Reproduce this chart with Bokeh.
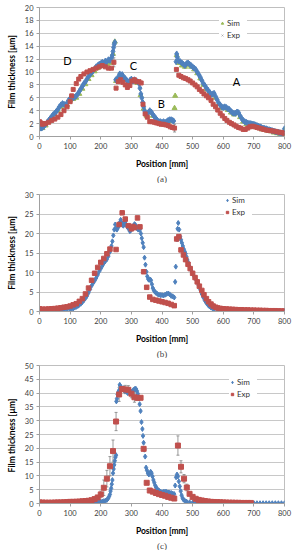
from bokeh.plotting import figure
from bokeh.layouts import column
from bokeh.models import (Range1d, Legend, LegendItem, Title, Whisker, ColumnDataSource,
                          TeeHead, SingleIntervalTicker, Label)
from bokeh.embed import file_html
from bokeh.resources import INLINE

# ---------------- data: panel (a) ----------------
a_sim_x = [0, 5, 10, 15, 20, 25, 30, 35, 40, 45, 50, 55, 60, 65, 70, 75, 80, 85, 90, 95, 100, 105, 110, 115, 120,
           125, 130, 135, 140, 145, 150, 155, 160, 165, 170, 175, 180, 185, 190, 195, 200, 205, 210, 215, 220, 225,
           230, 235, 238, 240, 242, 244, 246, 249, 252, 255, 258, 262, 266, 270, 275, 280, 285, 290, 295, 300, 305,
           310, 315, 320, 325, 328, 331, 334, 337, 340, 343, 346, 350, 355, 360, 365, 370, 375, 380, 385, 390, 395,
           400, 405, 410, 415, 420, 425, 430, 435, 438, 446, 448, 450, 455, 460, 465, 470, 475, 480, 485, 490, 495,
           500, 505, 510, 515, 520, 525, 530, 535, 540, 545, 550, 555, 560, 565, 570, 575, 580, 585, 590, 595, 600,
           605, 610, 615, 620, 625, 630, 635, 640, 645, 650, 655, 660, 665, 670, 675, 680, 685, 690, 695, 700, 705,
           710, 715, 720, 725, 730, 735, 740, 745, 750, 755, 760, 765, 770, 775, 780, 785, 790, 795, 800]
a_sim_y = [1.3, 1.3, 1.4, 1.6, 1.9, 2.2, 2.5, 2.8, 3.1, 3.4, 3.6, 3.9, 4.2, 4.6, 4.9, 5.1, 5.0, 4.8, 5.2, 5.6, 5.9,
           6.0, 6.0, 6.1, 6.3, 6.6, 7.0, 7.4, 7.8, 8.2, 8.5, 8.9, 9.3, 9.6, 9.9, 10.2, 10.5, 10.8, 11.0, 11.2, 11.3,
           11.5, 11.3, 11.7, 11.6, 11.9, 11.8, 12.2, 12.6, 13.2, 13.8, 14.3, 14.6, 8.8, 8.7, 8.9, 9.3, 9.7, 9.4, 9.6,
           9.2, 9.0, 8.7, 8.4, 8.7, 8.9, 8.6, 8.8, 8.6, 8.5, 8.2, 7.5, 6.6, 6.0, 5.3, 4.6, 4.0, 3.6, 3.5, 3.7, 4.0,
           3.8, 3.4, 3.1, 2.8, 2.5, 2.3, 2.3, 2.2, 2.3, 2.2, 2.3, 2.5, 2.6, 2.6, 2.5, 2.4, 11.6, 12.8, 12.3, 11.7,
           11.6, 11.4, 11.2, 11.0, 11.3, 11.4, 11.2, 11.0, 10.8, 10.6, 10.4, 10.0, 9.6, 9.2, 8.7, 8.2, 7.9, 7.5, 7.2,
           6.9, 6.5, 6.6, 6.7, 6.2, 5.7, 5.2, 4.9, 4.6, 4.5, 4.6, 4.5, 4.3, 4.2, 3.9, 3.7, 3.6, 3.6, 3.8, 3.7, 3.2,
           2.8, 2.5, 2.3, 2.2, 2.1, 2.0, 2.0, 1.9, 1.9, 1.8, 1.7, 1.6, 1.5, 1.4, 1.3, 1.25, 1.2, 1.1, 1.05, 1.0,
           0.9, 0.85, 0.75, 0.7, 0.65, 0.6, 0.5, 0.45, 1.2]
a_sim2_x = [0, 10, 20, 30, 40, 50, 60, 70, 80, 90, 100, 110, 120, 130, 140, 150, 160, 170, 180, 190, 200, 210, 220,
            230, 240, 246, 250, 260, 270, 280, 290, 300, 310, 320, 330, 340, 350, 360, 370, 380, 390, 400, 410, 420,
            430, 441, 443, 448, 455, 465, 475, 485, 495, 505, 515, 525, 535, 545, 555, 565, 575, 585, 595, 605, 615,
            625, 635, 645, 655, 665, 675, 685, 695, 705, 715, 725, 735, 745, 755, 765, 775, 785, 795, 800]
a_sim2_y = [1.2, 1.3, 1.7, 2.3, 2.9, 3.4, 4.0, 4.6, 4.8, 4.9, 5.6, 5.8, 6.0, 6.6, 7.4, 8.1, 8.9, 9.5, 10.1, 10.6,
            10.9, 11.0, 11.2, 11.4, 12.8, 14.7, 8.6, 9.2, 9.3, 8.8, 8.1, 8.6, 8.5, 8.3, 6.4, 4.3, 3.2, 3.7, 3.2, 2.6,
            2.2, 2.1, 2.1, 2.3, 2.4, 4.4, 6.3, 12.6, 11.4, 11.0, 10.8, 11.1, 10.8, 10.4, 9.8, 9.0, 8.0, 7.3, 6.7, 6.4,
            6.0, 5.0, 4.4, 4.4, 4.1, 3.7, 3.4, 3.6, 3.0, 2.3, 1.9, 1.7, 1.6, 1.5, 1.3, 1.1, 1.0, 0.9, 0.8, 0.6, 0.5,
            0.4, 0.3, 1.0]
a_exp_x = [0, 5, 10, 15, 20, 30, 40, 50, 60, 70, 80, 90, 100, 105, 110, 120, 128, 135, 145, 155, 165, 175, 185, 195,
           205, 215, 225, 235, 243, 250, 257, 265, 272, 280, 287, 295, 302, 310, 317, 325, 332, 338, 345, 352, 360,
           367, 375, 382, 390, 397, 405, 412, 420, 427, 434, 441, 447, 455, 462, 470, 477, 485, 492, 500, 508, 515,
           522, 530, 537, 545, 552, 560, 567, 575, 582, 590, 597, 605, 612, 620, 627, 635, 642, 650, 657, 665, 672,
           680, 687, 695, 702, 710, 717, 725, 732, 740, 747, 755, 762, 770, 777, 785, 792, 798]
a_exp_y = [2.3, 2.1, 1.9, 2.0, 2.0, 2.2, 2.5, 2.7, 3.0, 3.4, 4.0, 4.6, 5.4, 6.3, 7.3, 8.2, 8.9, 9.3, 9.7, 10.0,
           10.2, 10.4, 10.6, 10.8, 11.0, 10.8, 10.6, 10.6, 11.5, 7.5, 8.5, 8.8, 8.4, 8.0, 7.6, 7.9, 8.6, 8.8, 8.5,
           8.5, 8.3, 5.0, 3.5, 3.0, 2.3, 2.3, 2.2, 2.1, 2.0, 1.9, 1.9, 1.8, 1.7, 1.5, 1.4, 1.3, 10.4, 9.5, 9.3, 9.1,
           9.0, 8.8, 8.6, 8.3, 8.0, 7.7, 7.3, 7.0, 6.6, 6.3, 6.0, 5.6, 5.0, 4.6, 4.1, 3.6, 3.2, 2.8, 2.5, 2.2, 2.0,
           1.8, 1.6, 1.4, 1.3, 1.1, 1.1, 1.3, 1.5, 1.6, 1.5, 1.4, 1.3, 1.2, 1.1, 1.0, 0.95, 0.9, 0.85, 0.8, 0.7,
           0.65, 0.6, 0.5]
a_err_x = [243, 441]
a_err_v = [11.5, 1.3]
a_err_e = [0.7, 0.6]
a_zone_labels = ["D", "C", "B", "A"]
a_zone_x = [91, 307, 398, 643]
a_zone_y = [11.8, 11.0, 5.1, 8.5]

# ---------------- data: panel (b) ----------------
b_sim_x = [0, 10, 20, 30, 40, 50, 60, 70, 80, 90, 100, 105, 110, 115, 120, 125, 130, 135, 140, 145, 150, 155, 160,
           165, 170, 175, 180, 185, 190, 195, 200, 205, 210, 215, 220, 225, 230, 235, 238, 241, 244, 247, 250, 253,
           256, 259, 262, 265, 268, 271, 274, 277, 280, 283, 286, 289, 292, 295, 298, 301, 304, 307, 310, 313, 316,
           319, 322, 325, 328, 331, 334, 337, 340, 343, 346, 349, 352, 355, 358, 361, 364, 367, 370, 373, 376, 380,
           385, 390, 395, 400, 405, 410, 415, 420, 425, 430, 435, 440, 443, 445, 449, 451, 453, 456, 459, 462, 465,
           468, 471, 474, 477, 480, 483, 486, 490, 495, 500, 505, 510, 515, 520, 525, 530, 535, 540, 545, 550, 555,
           560, 565, 570, 580, 590, 600, 620, 640, 660, 680, 700, 720, 740, 760, 780, 800]
b_sim_y = [0.2, 0.2, 0.2, 0.2, 0.2, 0.25, 0.3, 0.35, 0.4, 0.5, 0.6, 0.7, 0.8, 1.0, 1.2, 1.4, 1.7, 2.0, 2.4, 2.9,
           3.4, 4.0, 4.8, 5.7, 6.6, 7.3, 7.9, 8.6, 9.4, 10.3, 11.0, 11.7, 12.4, 12.9, 13.4, 14.2, 15.3, 16.8, 18.0,
           19.5, 21.0, 22.3, 21.2, 21.0, 21.5, 22.0, 22.8, 23.5, 22.8, 22.2, 22.0, 22.6, 23.0, 22.3, 21.8, 21.4,
           21.2, 20.6, 20.8, 21.2, 21.6, 22.0, 22.4, 22.2, 21.8, 21.3, 21.0, 21.5, 21.0, 20.0, 18.8, 17.6, 16.5,
           13.8, 12.0, 10.2, 9.0, 8.3, 8.1, 8.2, 8.0, 7.0, 6.0, 5.5, 5.1, 4.8, 4.5, 4.3, 4.2, 4.2, 4.1, 4.3, 4.5,
           4.6, 4.4, 4.0, 3.9, 3.6, 7.6, 11.5, 18.5, 21.2, 22.7, 21.0, 19.2, 18.4, 17.6, 16.8, 16.0, 15.4, 14.8,
           14.0, 13.2, 12.5, 11.5, 10.6, 9.8, 9.0, 8.3, 7.5, 6.7, 5.6, 4.5, 3.6, 2.8, 2.2, 1.7, 1.3, 1.0, 0.8, 0.7,
           0.5, 0.4, 0.35, 0.3, 0.25, 0.2, 0.2, 0.15, 0.1, 0.1, 0.1, 0.1, 0.1]
b_exp_x = [0, 10, 20, 30, 40, 50, 60, 70, 80, 90, 100, 110, 120, 130, 140, 150, 160, 170, 180, 190, 200, 210, 220,
           230, 250, 260, 270, 280, 290, 300, 305, 310, 320, 328, 340, 350, 360, 370, 380, 390, 400, 410, 420, 430,
           440, 448, 455, 462, 470, 477, 485, 492, 500, 508, 515, 522, 530, 537, 545, 552, 560, 567, 575, 582, 590,
           600, 610, 620, 630, 640, 650, 660, 670, 680, 690, 700, 710, 720, 730, 740, 750, 760, 770, 780, 790, 800]
b_exp_y = [0.7, 0.6, 0.6, 0.65, 0.7, 0.75, 0.85, 0.95, 1.1, 1.2, 1.4, 1.7, 2.0, 2.6, 3.3, 4.5, 6.0, 8.0, 9.8, 11.3,
           12.6, 13.6, 14.8, 16.0, 15.9, 22.3, 25.3, 23.7, 22.0, 21.2, 21.8, 21.5, 24.0, 21.7, 10.2, 6.2, 3.7, 3.1,
           2.9, 2.7, 2.5, 2.3, 2.1, 1.8, 1.5, 18.6, 19.2, 15.8, 14.5, 13.3, 12.1, 11.0, 9.8, 8.7, 7.6, 6.5, 5.4, 4.3,
           3.3, 2.5, 1.9, 1.4, 1.1, 0.9, 0.8, 0.7, 0.65, 0.6, 0.55, 0.5, 0.45, 0.45, 0.4, 0.4, 0.35, 0.35, 0.3, 0.3,
           0.25, 0.25, 0.2, 0.2, 0.2, 0.15, 0.15, 0.1]

# ---------------- data: panel (c) ----------------
c_sim_x = [0, 10, 20, 30, 40, 50, 60, 70, 80, 90, 100, 110, 120, 130, 140, 150, 160, 170, 180, 185, 190, 195, 200,
           205, 210, 215, 220, 224, 227, 230, 232, 234, 236, 238, 240, 242, 244, 246, 248, 250, 251, 253, 255, 258,
           260, 262, 264, 267, 270, 273, 276, 279, 282, 285, 288, 291, 294, 297, 300, 303, 306, 309, 312, 315, 318,
           321, 324, 327, 330, 333, 336, 338, 340, 342, 345, 348, 351, 354, 357, 360, 363, 366, 369, 372, 375, 378,
           381, 385, 390, 395, 400, 405, 410, 415, 420, 425, 430, 435, 440, 443, 446, 449, 452, 455, 458, 461, 464,
           467, 470, 475, 480, 490, 500, 510, 520, 540, 560, 580, 600, 620, 640, 660, 680, 700, 710, 720, 730, 740,
           750, 760, 770, 780, 790, 800]
c_sim_y = [0.1, 0.1, 0.1, 0.1, 0.1, 0.1, 0.1, 0.1, 0.1, 0.1, 0.1, 0.1, 0.1, 0.1, 0.15, 0.15, 0.2, 0.25, 0.3, 0.35,
           0.4, 0.5, 0.6, 0.7, 0.85, 1.0, 1.3, 1.8, 2.5, 3.3, 4.5, 5.5, 7.0, 8.5, 11.0, 12.5, 14.0, 15.5, 16.8,
           17.5, 37.0, 38.0, 39.5, 40.5, 41.0, 43.0, 42.5, 42.0, 41.5, 41.8, 41.0, 40.8, 41.2, 40.5, 40.0, 40.8,
           41.0, 40.2, 39.8, 40.5, 41.0, 41.3, 41.6, 41.5, 40.8, 39.8, 38.5, 36.0, 33.5, 29.5, 27.0, 24.5, 22.0,
           19.5, 17.0, 13.0, 12.0, 11.0, 10.5, 10.8, 11.5, 11.0, 9.8, 8.5, 7.5, 6.5, 5.8, 5.2, 4.7, 4.3, 4.1, 4.2,
           4.3, 4.2, 4.0, 3.9, 3.8, 3.6, 3.4, 6.5, 9.5, 10.5, 9.8, 8.0, 6.2, 4.5, 3.0, 2.0, 1.4, 0.9, 0.7, 0.45, 0.3,
           0.25, 0.2, 0.15, 0.1, 0.1, 0.1, 0.1, 0.1, 0.1, 0.1, 0.1, 0.1, 0.1, 0.1, 0.1, 0.1, 0.1, 0.1, 0.1, 0.1, 0.1]
c_exp_x = [0, 10, 20, 30, 40, 50, 60, 70, 80, 90, 100, 110, 120, 130, 140, 150, 160, 170, 180, 190, 200, 210, 220,
           230, 240, 250, 260, 270, 280, 290, 300, 310, 320, 330, 340, 350, 360, 370, 380, 390, 400, 410, 420, 430,
           440, 452, 462, 472, 481, 490, 500, 510, 520, 530, 540, 550, 560, 570, 580, 590, 600, 610, 620, 630, 640,
           650, 660, 670, 680, 690]
c_exp_y = [0.4, 0.35, 0.3, 0.3, 0.3, 0.35, 0.4, 0.4, 0.45, 0.5, 0.6, 0.6, 0.65, 0.7, 0.8, 0.9, 1.0, 1.2, 1.6, 2.2,
           3.3, 5.7, 9.0, 13.5, 19.0, 29.7, 39.5, 41.5, 41.3, 41.2, 39.8, 38.5, 38.3, 38.3, 19.8, 7.5, 4.7, 4.3,
           3.8, 3.4, 3.1, 2.8, 2.4, 2.1, 1.8, 21.0, 13.3, 9.0, 5.8, 3.5, 2.4, 1.7, 1.3, 1.1, 0.9, 0.75, 0.6, 0.55,
           0.5, 0.45, 0.4, 0.35, 0.3, 0.3, 0.25, 0.25, 0.2, 0.2, 0.2, 0.2]
c_err_x = [200, 210, 220, 230, 240, 250, 260, 280, 290, 300, 310, 320, 452, 462, 472, 481]
c_err_v = [3.3, 5.7, 9.0, 13.5, 19.0, 29.7, 39.5, 41.3, 41.2, 39.8, 38.5, 38.3, 21.0, 13.3, 9.0, 5.8]
c_err_e = [1.2, 2.8, 3.0, 3.5, 4.0, 3.3, 2.5, 1.5, 1.5, 1.5, 1.8, 1.0, 3.5, 2.2, 1.5, 1.2]

x_ticks_step = 100

BLUE = "#4F81BD"
RED = "#C0504D"
GREEN = "#9BBB59"
GRAY = "#A6A6A6"
FONT = "Lato"


def make_fig(ymax, ystep, height, top, ylabel, tag):
    p = figure(width=295, height=height, output_backend="svg", toolbar_location=None,
               x_range=Range1d(0, 800), y_range=Range1d(0, ymax),
               min_border_left=39, min_border_right=11, min_border_top=top, min_border_bottom=0)
    p.xgrid.visible = False
    p.ygrid.grid_line_color = "#C8C8C8"
    p.ygrid.grid_line_width = 1
    p.outline_line_color = "#BFBFBF"
    p.xaxis.ticker = SingleIntervalTicker(interval=x_ticks_step)
    p.yaxis.ticker = SingleIntervalTicker(interval=ystep)
    for ax in (p.xaxis[0], p.yaxis[0]):
        ax.axis_line_color = "#A0A0A0"
        ax.major_tick_line_color = "#A0A0A0"
        ax.major_tick_in = 0
        ax.major_tick_out = 3
        ax.minor_tick_line_color = None
        ax.major_label_text_font = FONT
        ax.major_label_text_font_size = "7.5px"
        ax.major_label_text_color = "#404040"
        ax.major_label_standoff = 2
        ax.axis_label_text_font = FONT
        ax.axis_label_text_font_size = "8.5px"
        ax.axis_label_text_font_style = "bold"
        ax.axis_label_text_color = "#000000"
    p.xaxis.axis_label_standoff = 7
    p.yaxis.axis_label_standoff = 5
    p.xaxis.axis_label = "Position [mm]"
    p.yaxis.axis_label = ylabel
    p.add_layout(Title(text=tag, align="center", text_font="Liberation Serif",
                       text_font_size="9px", text_font_style="normal", standoff=0), "below")
    return p


def add_err(p, xs, vs, es):
    src = ColumnDataSource(dict(x=xs, lo=[v - e for v, e in zip(vs, es)], hi=[v + e for v, e in zip(vs, es)]))
    w = Whisker(source=src, base="x", lower="lo", upper="hi", line_color="#808080", line_width=0.8,
                upper_head=TeeHead(size=3, line_color="#808080", line_width=0.8),
                lower_head=TeeHead(size=3, line_color="#808080", line_width=0.8))
    p.add_layout(w)


def add_legend(p, items, x, y):
    leg = Legend(items=items, location=(x, y), background_fill_color="white", background_fill_alpha=1,
                 border_line_color=None, label_text_font=FONT, label_text_font_size="8px",
                 label_text_color="#333333", glyph_width=6, glyph_height=8, label_height=8,
                 label_standoff=2, spacing=2, padding=3, margin=0)
    p.add_layout(leg)


# ---------- (a) ----------
pa = make_fig(20, 2, 183, 7, "Film thickness [\u00b5m]", "(a)")
ga = pa.scatter(a_sim2_x, a_sim2_y, marker="triangle", size=5, color=GREEN)
pa.scatter(a_sim_x, a_sim_y, marker="diamond", size=6, color=BLUE)
pa.scatter(a_exp_x, a_exp_y, marker="square", size=4, color=RED)
add_err(pa, a_err_x, a_err_v, a_err_e)
xa = pa.scatter([-100], [-100], marker="x", size=5, line_color=GRAY, line_width=1)
for t, lx, ly in zip(a_zone_labels, a_zone_x, a_zone_y):
    pa.add_layout(Label(x=lx, y=ly, text=t, text_align="center", text_baseline="middle",
                        text_font=FONT, text_font_size="11px", text_color="#000000"))
add_legend(pa, [LegendItem(label="Sim", renderers=[ga]), LegendItem(label="Exp", renderers=[xa])], 180, 96)

# ---------- (b) ----------
pb = make_fig(30, 5, 175, 11, "Film thickness [\u00b5m]", "(b)")
sb = pb.scatter(b_sim_x, b_sim_y, marker="diamond", size=5, color=BLUE)
eb = pb.scatter(b_exp_x, b_exp_y, marker="square", size=4.5, color=RED)
add_legend(pb, [LegendItem(label="Sim", renderers=[sb]), LegendItem(label="Exp", renderers=[eb])], 185, 94)

# ---------- (c) ----------
pc = make_fig(50, 5, 192, 7, "Film thickness  [\u00b5m]", "(c)")
sc = pc.scatter(c_sim_x, c_sim_y, marker="diamond", size=5, color=BLUE)
ec = pc.scatter(c_exp_x, c_exp_y, marker="square", size=5, color=RED)
add_err(pc, c_err_x, c_err_v, c_err_e)
add_legend(pc, [LegendItem(label="Sim", renderers=[sc]), LegendItem(label="Exp", renderers=[ec])], 190, 104)

layout = column(pa, pb, pc, spacing=0)
open("out.html", "w").write(file_html(layout, INLINE))
